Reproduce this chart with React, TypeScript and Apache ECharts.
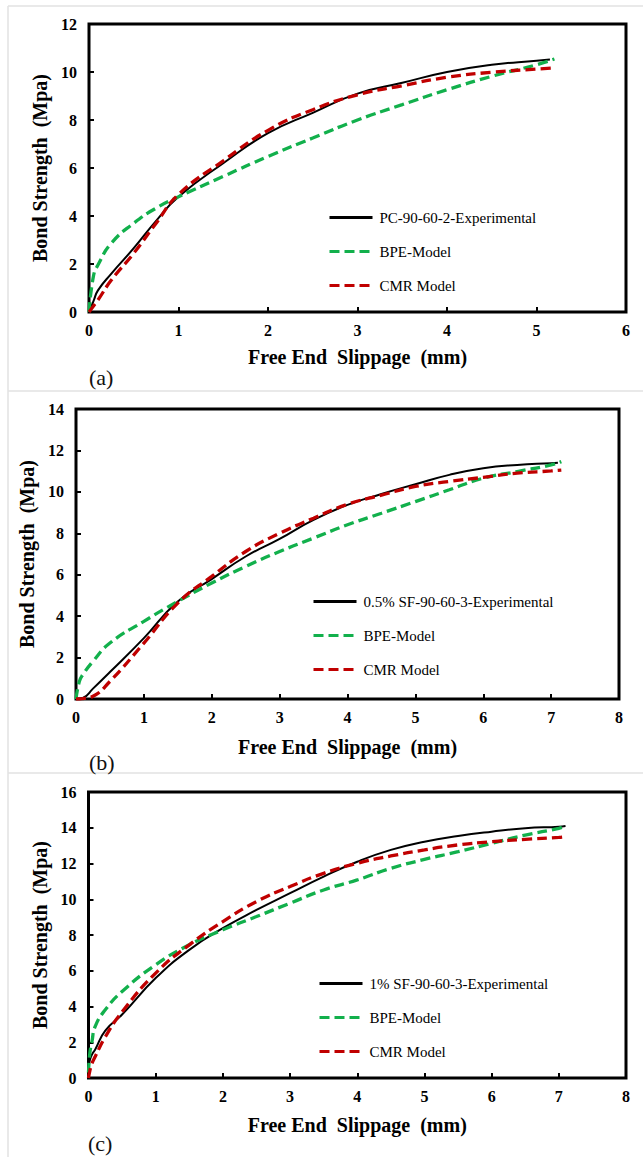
import React, { useEffect, useRef } from "react";
import * as echarts from "echarts";

// Panel (a): PC-90-60-2
const slipExpA = [0, 0.05, 0.1, 0.25, 0.5, 0.75, 1, 1.5, 2, 2.5, 3, 3.5, 4, 4.5, 5, 5.15];
const bondExpA = [0, 0.45, 0.9, 1.6, 2.66, 3.8, 4.8, 6.2, 7.45, 8.3, 9.1, 9.55, 10.0, 10.3, 10.47, 10.52];
const slipModelA = [0, 0.05, 0.1, 0.25, 0.5, 0.75, 1, 1.5, 2, 2.5, 3, 3.5, 4, 4.5, 5, 5.2];
const bondBpeA = [0, 1.5, 1.96, 2.87, 3.7, 4.33, 4.8, 5.65, 6.48, 7.25, 8.0, 8.64, 9.26, 9.82, 10.3, 10.54];
const bondCmrA = [0, 0.25, 0.5, 1.33, 2.45, 3.7, 4.9, 6.3, 7.57, 8.43, 9.05, 9.43, 9.78, 9.99, 10.12, 10.17];

// Panel (b): 0.5% SF-90-60-3
const slipExpB = [0, 0.1, 0.25, 0.5, 1, 1.5, 2, 2.5, 3, 3.5, 4, 4.5, 5, 5.5, 6, 6.5, 7, 7.1];
const bondExpB = [0, 0.05, 0.5, 1.3, 2.94, 4.71, 5.79, 6.88, 7.73, 8.65, 9.37, 9.9, 10.37, 10.82, 11.14, 11.3, 11.38, 11.4];
const slipModelB = [0, 0.05, 0.1, 0.25, 0.5, 1, 1.5, 2, 2.5, 3, 3.5, 4, 4.5, 5, 5.5, 6, 6.5, 7, 7.15];
const bondBpeB = [0, 0.85, 1.17, 1.82, 2.7, 3.75, 4.71, 5.6, 6.4, 7.12, 7.77, 8.41, 8.97, 9.53, 10.1, 10.66, 10.98, 11.3, 11.46];
const bondCmrB = [0, 0.0, 0.02, 0.13, 0.85, 2.7, 4.63, 5.92, 7.12, 8.0, 8.73, 9.4, 9.84, 10.26, 10.5, 10.7, 10.9, 11.01, 11.05];

// Panel (c): 1% SF-90-60-3
const slipC = [0, 0.02, 0.05, 0.1, 0.25, 0.5, 1, 1.5, 2, 2.5, 3, 3.5, 4, 4.5, 5, 5.5, 6, 6.5, 7, 7.1];
const bondExpC = [0.6, 1.0, 1.3, 1.6, 2.65, 3.55, 5.59, 7.17, 8.38, 9.4, 10.34, 11.27, 12.1, 12.76, 13.22, 13.54, 13.78, 13.97, 14.06, 14.1];
const bondBpeC = [0.3, 1.4, 2.0, 2.89, 3.82, 4.84, 6.33, 7.45, 8.29, 9.03, 9.78, 10.52, 11.08, 11.73, 12.23, 12.66, 13.13, 13.59, 13.97, 14.1];
const bondCmrC = [0, 0.4, 0.8, 1.2, 2.3, 3.7, 5.87, 7.45, 8.75, 9.87, 10.71, 11.45, 12.01, 12.42, 12.76, 13.04, 13.22, 13.35, 13.46, 13.5];

const expNames = ["PC-90-60-2-Experimental", "0.5% SF-90-60-3-Experimental", "1% SF-90-60-3-Experimental"];
const bpeName = "BPE-Model";
const cmrName = "CMR Model";
const panelTags = ["(a)", "(b)", "(c)"];
const yMax = [12, 14, 16];
const xMax = [6, 8, 8];

const SERIF = '"Liberation Serif", "Times New Roman", serif';
const GREEN = "#12b04c";
const RED = "#c00000";

const pairs = (xs: number[], ys: number[]) => xs.map((x, i) => [x, ys[i]]);

// grid geometry per panel, in page pixels
const grids = [
  { left: 89, top: 24, width: 537, height: 288 },
  { left: 76, top: 409, width: 543, height: 290 },
  { left: 88.5, top: 792, width: 537.5, height: 286 },
];
const yNameGap = [36, 34, 36];
const xNameGap = [35, 38, 37];
const legendPos = [
  { left: 328, top: 210 },
  { left: 312, top: 594 },
  { left: 318, top: 976 },
];
const tagPos = [
  { x: 89, y: 377 },
  { x: 89, y: 762 },
  { x: 88, y: 1143 },
];
const frameTops = [6, 391, 773];

export default function App() {
  const ref = useRef<HTMLDivElement>(null);

  useEffect(() => {
    if (!ref.current) return;
    const chart = echarts.init(ref.current, undefined, { renderer: "svg" });

    const panelSeries = [
      [pairs(slipExpA, bondExpA), pairs(slipModelA, bondBpeA), pairs(slipModelA, bondCmrA)],
      [pairs(slipExpB, bondExpB), pairs(slipModelB, bondBpeB), pairs(slipModelB, bondCmrB)],
      [pairs(slipC, bondExpC), pairs(slipC, bondBpeC), pairs(slipC, bondCmrC)],
    ];

    const series: any[] = [];
    panelSeries.forEach((set, p) => {
      series.push({
        type: "line",
        name: expNames[p],
        xAxisIndex: p,
        yAxisIndex: p,
        data: set[0],
        smooth: true,
        symbol: "none",
        lineStyle: { color: "#000", width: 2 },
        itemStyle: { color: "#000" },
      });
      series.push({
        type: "line",
        name: bpeName,
        xAxisIndex: p,
        yAxisIndex: p,
        data: set[1],
        smooth: true,
        symbol: "none",
        lineStyle: { color: GREEN, width: 3.3, type: [10, 5] },
        itemStyle: { color: GREEN },
      });
      series.push({
        type: "line",
        name: cmrName,
        xAxisIndex: p,
        yAxisIndex: p,
        data: set[2],
        smooth: true,
        symbol: "none",
        lineStyle: { color: RED, width: 3.3, type: [10, 5] },
        itemStyle: { color: RED },
      });
    });

    const graphics: any[] = [];
    frameTops.forEach((y) => {
      graphics.push({
        type: "line",
        shape: { x1: 8, y1: y, x2: 643, y2: y },
        style: { stroke: "#e2e2e2", lineWidth: 1.5 },
      });
    });
    graphics.push({
      type: "line",
      shape: { x1: 8, y1: 6, x2: 8, y2: 1157 },
      style: { stroke: "#e2e2e2", lineWidth: 1.5 },
    });
    panelTags.forEach((t, p) => {
      graphics.push({
        type: "text",
        x: tagPos[p].x,
        y: tagPos[p].y,
        style: {
          text: t,
          font: `22px ${SERIF}`,
          fill: "#111",
          verticalAlign: "middle",
        },
      });
    });

    chart.setOption({
      animation: false,
      backgroundColor: "#fff",
      grid: grids.map((g) => ({
        ...g,
        show: true,
        borderColor: "#000",
        borderWidth: 3,
        backgroundColor: "transparent",
        containLabel: false,
      })),
      xAxis: grids.map((_, p) => ({
        type: "value",
        gridIndex: p,
        min: 0,
        max: xMax[p],
        interval: 1,
        name: "Free End  Slippage  (mm)",
        nameLocation: "middle",
        nameGap: xNameGap[p],
        nameTextStyle: { fontFamily: SERIF, fontWeight: "bold", fontSize: 20, color: "#000" },
        axisLine: { show: false },
        axisTick: { show: true, inside: true, length: 5, lineStyle: { color: "#000", width: 2 } },
        axisLabel: { fontFamily: SERIF, fontWeight: "bold", fontSize: 16, color: "#000", margin: 10 },
        splitLine: { show: false },
      })),
      yAxis: grids.map((_, p) => ({
        type: "value",
        gridIndex: p,
        min: 0,
        max: yMax[p],
        interval: 2,
        name: "Bond Strength  (Mpa)",
        nameLocation: "middle",
        nameGap: yNameGap[p],
        nameTextStyle: { fontFamily: SERIF, fontWeight: "bold", fontSize: 20, color: "#000" },
        axisLine: { show: false },
        axisTick: { show: true, inside: true, length: 5, lineStyle: { color: "#000", width: 2 } },
        axisLabel: { fontFamily: SERIF, fontWeight: "bold", fontSize: 16, color: "#000", margin: 12 },
        splitLine: { show: false },
      })),
      legend: grids.map((_, p) => ({
        orient: "vertical",
        left: legendPos[p].left,
        top: legendPos[p].top,
        padding: 0,
        data: [expNames[p], bpeName, cmrName],
        itemWidth: 43,
        itemHeight: 14,
        itemGap: 19,
        selectedMode: false,
        itemStyle: { opacity: 0, borderWidth: 0 },
        lineStyle: { width: 3 },
        textStyle: { fontFamily: SERIF, fontSize: 15, color: "#000", padding: [0, 0, 0, 2] },
      })),
      series,
      graphic: graphics,
    });

    return () => chart.dispose();
  }, []);

  return (
    <div
      ref={ref}
      style={{ position: "absolute", left: 0, top: 0, width: 643, height: 1157 }}
    />
  );
}
